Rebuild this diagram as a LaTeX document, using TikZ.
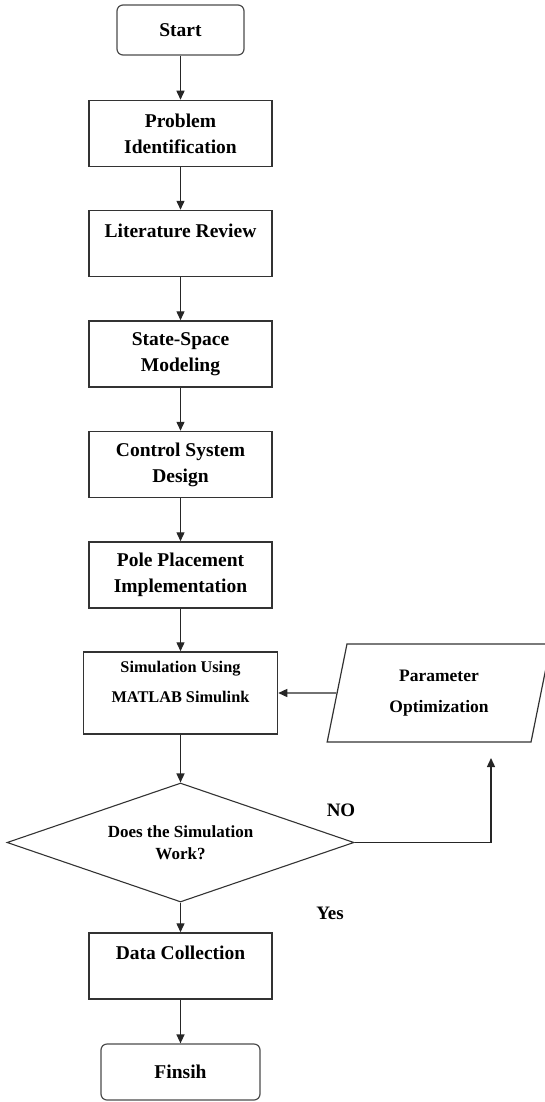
\documentclass[tikz,border=0pt]{standalone}
\usepackage{fontspec}
\setmainfont{Liberation Serif}
\usepackage{tikz}
\usetikzlibrary{arrows.meta,positioning,shapes.geometric}

\begin{document}
\begin{tikzpicture}[x=1pt, y=-1pt,
  box/.style={draw=black!80, line width=1.5pt, minimum width=183pt, minimum height=66pt, inner sep=0pt, align=center, font=\fontsize{19.5}{26}\selectfont\bfseries},
  term/.style={draw=black!70, line width=1.2pt, rounded corners=6pt, inner sep=0pt, font=\fontsize{19.5}{26}\selectfont\bfseries},
  decision/.style={diamond, draw=black!80, line width=1.1pt, aspect=2.9, minimum width=347pt, minimum height=119pt, inner sep=0pt, align=center, font=\fontsize{17}{26}\selectfont\bfseries},
  io/.style={trapezium, trapezium left angle=77, trapezium right angle=103, trapezium stretches=true, draw=black!80, line width=1.2pt, minimum width=224pt, minimum height=98pt, inner sep=0pt, align=center, font=\fontsize{17.5}{31}\selectfont\bfseries},
  flow/.style={draw=black!85, line width=1.4pt, -{Triangle[width=8pt,length=9pt]}},
  lbl/.style={font=\fontsize{19}{22}\selectfont\bfseries}]
  \useasboundingbox (0,0) rectangle (545,1102);
  % Main column
  \node[term, minimum width=127pt, minimum height=50pt] (start) at (180.5,30) {Start};
  \node[box] (prob) at (180.5,133.5) {Problem\\Identification};
  \node[box] (lit) at (180.5,243.5) {Literature Review\\\mbox{}};
  \node[box] (ssm) at (180.5,354) {State-Space\\Modeling};
  \node[box] (csd) at (180.5,464.5) {Control System\\Design};
  \node[box] (pole) at (180.5,575) {Pole Placement\\Implementation};
  \node[box, minimum width=194pt, minimum height=82pt, font=\fontsize{16.3}{30}\selectfont\bfseries] (sim) at (180.5,693) {Simulation Using\\MATLAB Simulink\\[-8pt]\mbox{}};
  \node[decision] (work) at (180.5,842.5) {Does the Simulation\\[-4pt]Work?};
  \node[box] (data) at (180.5,966) {Data Collection\\\mbox{}};
  \node[term, minimum width=159pt, minimum height=56pt] (finish) at (180.5,1072) {Finsih};
  % Feedback branch
  \node[io] (param) at (439,693) {Parameter\\Optimization};
  \coordinate (noend) at (491,758);
  \node[lbl] (nolbl) at (341,810) {NO};
  \node[lbl] (yeslbl) at (330,913) {Yes};
  % Connectors
  \draw[flow] (start) -- (prob);
  \draw[flow] (prob) -- (lit);
  \draw[flow] (lit) -- (ssm);
  \draw[flow] (ssm) -- (csd);
  \draw[flow] (csd) -- (pole);
  \draw[flow] (pole) -- (sim);
  \draw[flow] (sim) -- (work);
  \draw[flow] (work) -- (data);
  \draw[flow] (data) -- (finish);
  \draw[flow] (work.east) -| (noend);
  \draw[flow] (param.west) -- (sim.east);
\end{tikzpicture}
\end{document}
